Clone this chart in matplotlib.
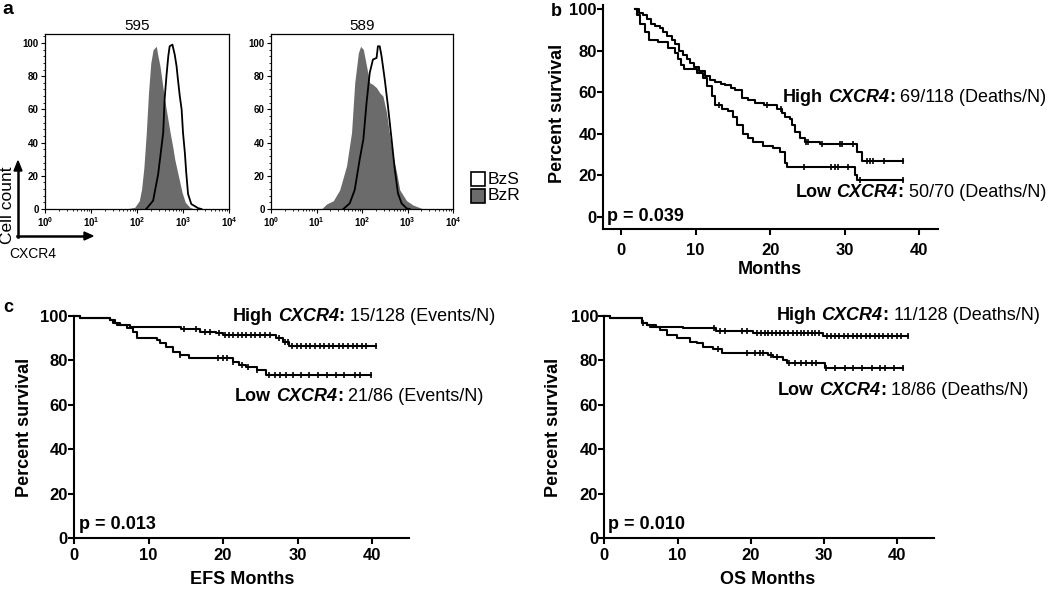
import numpy as np
import matplotlib
matplotlib.use('Agg')
import matplotlib.pyplot as plt
import matplotlib.transforms as mtransforms
from matplotlib.ticker import FixedLocator, LogLocator, NullFormatter, FuncFormatter, AutoMinorLocator
from matplotlib.patches import Rectangle
from matplotlib.lines import Line2D

plt.rcParams['font.family'] = ['Liberation Sans', 'DejaVu Sans']
plt.rcParams['mathtext.fontset'] = 'custom'
plt.rcParams['mathtext.rm'] = 'Liberation Sans'
plt.rcParams['mathtext.bf'] = 'Liberation Sans:bold'
plt.rcParams['mathtext.it'] = 'Liberation Sans:italic'

# ---------------- data ----------------
# panel a: flow histograms (log10 intensity, % of max)
h595_bzs_log = [2.20, 2.35, 2.46, 2.57, 2.60, 2.64, 2.68, 2.71, 2.77, 2.82, 2.86, 2.89, 2.93, 2.97, 3.00, 3.04, 3.07, 3.11, 3.18, 3.33, 3.40]
h595_bzs_cnt = [0, 5, 21, 46, 66, 80, 92, 98, 99, 93, 86, 78, 68, 60, 46, 34, 22, 9, 3, 0.5, 0]
h595_bzr_log = [1.75, 1.95, 2.05, 2.10, 2.15, 2.20, 2.25, 2.30, 2.35, 2.42, 2.45, 2.50, 2.55, 2.60, 2.66, 2.72, 2.78, 2.82, 2.90, 2.98, 3.05, 3.15, 3.25]
h595_bzr_cnt = [0, 1, 5, 12, 25, 45, 70, 88, 96, 98, 93, 86, 76, 66, 56, 46, 37, 30, 20, 10, 4, 1, 0]
h589_bzs_log = [1.59, 1.73, 1.84, 1.95, 2.03, 2.10, 2.17, 2.24, 2.32, 2.35, 2.39, 2.43, 2.50, 2.57, 2.65, 2.72, 2.79, 2.87, 2.98, 3.05]
h589_bzs_cnt = [0, 3.4, 11.5, 30, 42, 64, 82, 90, 91, 98, 98, 92, 78, 62, 42, 24, 9.5, 3.4, 0.4, 0]
h589_bzr_log = [1.11, 1.22, 1.37, 1.51, 1.66, 1.77, 1.84, 1.92, 1.97, 2.03, 2.10, 2.17, 2.24, 2.32, 2.39, 2.46, 2.54, 2.61, 2.68, 2.76, 2.83, 2.98, 3.12, 3.31, 3.40]
h589_bzr_cnt = [0, 3, 5, 11.5, 26, 46, 76, 94, 98, 96, 86, 76, 75, 73, 70, 68, 58, 44, 32, 22, 11.5, 5, 2.4, 0.4, 0]
hist_titles = ['595', '589']
legend_labels = ['BzS', 'BzR']

# panel b: survival (months, percent)
b_high_t = [1.9, 2.4, 3.0, 3.5, 4.0, 4.6, 5.2, 5.7, 6.2, 6.8, 7.3, 7.8, 8.3, 8.8, 9.3, 9.8, 10.4, 11.3, 12.0, 12.6, 13.4, 14.0, 14.7, 15.3, 16.2, 17.0, 18.0, 19.2, 20.9, 21.6, 22.0, 22.7, 22.9, 23.4, 24.0, 24.7, 26.7, 31.6, 32.3, 37.8]
b_high_s = [100, 98, 97, 95, 93, 92, 91, 89, 87, 85, 83, 80, 78, 76, 74, 72, 70, 68, 66, 65, 64, 63.5, 62, 61, 57, 56, 54.6, 54, 52, 50, 48, 47, 44, 41, 38, 36, 35, 31, 27, 27]
b_high_cens = [19.6, 21.4, 24.8, 25.1, 26.9, 29.3, 29.6, 31.1, 33.0, 33.4, 33.8, 35.2, 37.8]
b_low_t = [1.9, 2.2, 2.6, 3.2, 3.7, 5.0, 6.3, 7.2, 7.7, 8.1, 8.5, 10.2, 11.0, 11.5, 12.2, 12.6, 13.5, 14.4, 15.0, 15.5, 16.4, 17.0, 17.7, 19.1, 20.4, 21.3, 22.0, 22.2, 31.4, 31.6, 37.8]
b_low_s = [100, 97, 93, 89, 85, 84, 81, 79, 76, 73, 71, 69, 67, 63, 58, 54, 52, 51, 48, 44, 40, 38, 36, 34, 33, 31, 26, 24, 20, 18, 18]
b_low_cens = [13.2, 24.5, 28.1, 28.7, 29.1, 30.5, 32.1, 37.8]

# panel c: EFS
efs_high_t = [0, 0.8, 4.8, 5.3, 5.8, 7.5, 14.4, 16.9, 19.1, 20.0, 27.1, 28.0, 28.9, 40.5]
efs_high_s = [100, 99.2, 98.2, 97, 96, 95, 94, 93, 92.2, 91.4, 90, 88.5, 86.7, 86.7]
efs_high_cens = [14.8, 16.4, 17.6, 18.3, 19.4, 20.3, 20.8, 21.4, 22.0, 22.6, 23.1, 23.7, 24.3, 25.0, 25.6, 26.3, 27.5, 28.3, 28.7, 29.3, 29.9, 30.5, 31.1, 31.7, 32.4, 33.0, 33.6, 34.2, 34.8, 35.5, 36.1, 36.8, 37.4, 38.0, 38.6, 39.2, 40.5]
efs_low_t = [0, 0.8, 4.8, 5.5, 6.2, 7.1, 7.9, 8.4, 11.1, 11.5, 12.4, 13.3, 14.2, 15.5, 21.3, 22.2, 23.1, 24.5, 25.8, 39.9]
efs_low_s = [100, 99.2, 98, 97, 96, 94.5, 93, 90, 89.2, 87.7, 86.2, 84, 82.5, 81, 79.5, 78, 77.2, 75.7, 73.5, 73.5]
efs_low_cens = [14.2, 19.3, 20.0, 20.6, 21.4, 22.5, 23.3, 24.6, 26.2, 27.0, 27.7, 28.4, 29.4, 30.4, 31.6, 32.8, 33.9, 35.1, 36.3, 37.7, 38.4, 39.9]

# panel c: OS
os_high_t = [0, 0.8, 5.1, 5.8, 7.1, 10.8, 15.3, 20.3, 29.9, 41.5]
os_high_s = [100, 99.2, 97, 96, 95.2, 94.5, 93.4, 92.2, 91, 91]
os_high_cens = [5.3, 15.0, 15.8, 16.5, 18.8, 19.5, 20.8, 21.4, 21.9, 22.4, 22.9, 23.4, 24.0, 24.5, 25.1, 25.7, 26.3, 26.8, 27.3, 27.8, 28.3, 28.8, 29.3, 30.4, 30.9, 31.5, 32.1, 32.7, 33.3, 33.9, 34.5, 35.1, 35.7, 36.3, 36.9, 37.5, 38.1, 38.7, 39.3, 39.9, 40.5, 41.5]
os_low_t = [0, 0.8, 5.1, 5.8, 6.2, 7.6, 8.5, 9.9, 11.7, 12.6, 13.5, 14.9, 16.0, 22.3, 23.0, 24.4, 24.9, 30.1, 40.8]
os_low_s = [100, 99.2, 97, 96, 95.2, 93.7, 91.5, 90, 88.4, 87.7, 86.2, 85, 83.5, 82.5, 81.7, 80.2, 79, 76.5, 76.5]
os_low_cens = [15.5, 19.5, 20.6, 21.2, 21.7, 22.7, 23.6, 25.2, 26.0, 26.8, 27.5, 28.3, 28.9, 30.2, 31.5, 32.8, 34.0, 35.2, 36.5, 37.6, 38.3, 39.6, 40.8]

surv_ticks = [0, 20, 40, 60, 80, 100]
month_ticks = [0, 10, 20, 30, 40]

# ---------------- figure ----------------
W, H = 1050, 589
fig = plt.figure(figsize=(W / 100, H / 100), dpi=100)


def box(l, t, r, b):
    return [l / W, 1 - b / H, (r - l) / W, (b - t) / H]


def P(x, y):
    return (x / W, 1 - y / H)


GRAY = '#6b6b6b'

# ---- panel a ----
def hist(ax, sl, sc, rl, rc, title):
    sx = 10 ** np.array(sl)
    rx = 10 ** np.array(rl)
    ax.fill_between(sx, sc, color='white', lw=0, zorder=1)
    ax.fill_between(rx, rc, color=GRAY, lw=0, zorder=2)
    ax.plot(sx, sc, color='black', lw=1.3, zorder=3)
    ax.set_xscale('log')
    ax.set_xlim(1, 1e4)
    ax.set_ylim(0, 105.4)
    ax.yaxis.set_major_locator(FixedLocator(surv_ticks))
    ax.yaxis.set_minor_locator(AutoMinorLocator(5))
    ax.xaxis.set_major_locator(LogLocator(base=10, numticks=10))
    ax.xaxis.set_minor_locator(LogLocator(base=10, subs=np.arange(2, 10), numticks=20))
    ax.xaxis.set_minor_formatter(NullFormatter())
    ax.xaxis.set_major_formatter(FuncFormatter(lambda v, p: r'$\mathbf{10^{%d}}$' % round(np.log10(v))))
    ax.tick_params(which='major', direction='out', length=3, width=0.8, labelsize=7, pad=1.5)
    ax.tick_params(which='minor', direction='out', length=1.5, width=0.6)
    for lab in ax.get_yticklabels():
        lab.set_fontweight('bold')
    for sp in ax.spines.values():
        sp.set_linewidth(0.9)
    ax.set_title(title, fontsize=11, pad=3)


ax1 = fig.add_axes(box(45, 34, 229, 209))
hist(ax1, h595_bzs_log, h595_bzs_cnt, h595_bzr_log, h595_bzr_cnt, hist_titles[0])
ax2 = fig.add_axes(box(271, 34, 453, 209))
hist(ax2, h589_bzs_log, h589_bzs_cnt, h589_bzr_log, h589_bzr_cnt, hist_titles[1])

# legend
for i, (lab, col) in enumerate(zip(legend_labels, ['white', GRAY])):
    y0 = 172 + i * 17
    fig.add_artist(Rectangle(P(471, y0 + 14), 14 / W, 14 / H, transform=fig.transFigure,
                             facecolor=col, edgecolor='black', lw=1.2))
    fig.text(*P(488, y0 + 7), lab, fontsize=12.5, ha='left', va='center')

# axis arrows
fig.add_artist(Line2D([18 / W, 18 / W], [1 - 237 / H, 1 - 170 / H], color='black', lw=1.8))
fig.add_artist(Line2D([17 / W, 85 / W], [1 - 236 / H, 1 - 236 / H], color='black', lw=1.8))
fig.add_artist(plt.Polygon([P(14, 171), P(22, 171), P(18, 161)], closed=True, color='black', transform=fig.transFigure))
fig.add_artist(plt.Polygon([P(84, 232), P(84, 240), P(93, 236)], closed=True, color='black', transform=fig.transFigure))
fig.text(*P(8, 205), 'Cell count', rotation=90, fontsize=12.5, ha='center', va='center')
fig.text(*P(33, 254), 'CXCR4', fontsize=10, ha='center', va='center')
fig.text(*P(8, 10), 'a', fontsize=14, fontweight='bold', ha='center', va='center')


# ---- survival helpers ----
def surv_at(t, s, c):
    idx = np.searchsorted(np.array(t), c, side='right') - 1
    return np.array(s)[idx]


def km(ax, t, s, cens):
    ax.step(t, s, where='post', color='black', lw=1.5, clip_on=False, zorder=3)
    cy = surv_at(t, s, cens)
    ax.plot(cens, cy, ls='none', marker='|', ms=5, mew=1.2, color='black', clip_on=False, zorder=3)


def style_surv(ax, xlim, ylim, xpad):
    ax.set_xlim(*xlim)
    ax.set_ylim(*ylim)
    ax.spines['top'].set_visible(False)
    ax.spines['right'].set_visible(False)
    for sp in ['left', 'bottom']:
        ax.spines[sp].set_linewidth(1.5)
    ax.xaxis.set_major_locator(FixedLocator(month_ticks))
    ax.yaxis.set_major_locator(FixedLocator(surv_ticks))
    ax.tick_params(direction='out', length=4, width=1.5, labelsize=12)
    ax.tick_params(axis='y', pad=0.5)
    ax.tick_params(axis='x', pad=xpad)
    for lab in ax.get_xticklabels() + ax.get_yticklabels():
        lab.set_fontweight('bold')


renderer = fig.canvas.get_renderer()


def rich(ax, x, y, parts, size=13):
    dx = 0.0
    space = 0.278 * size * 100 / 72
    for s, w, st, gap in parts:
        if gap:
            dx += space
        tr = mtransforms.offset_copy(ax.transData, fig=fig, x=dx, y=0, units='dots')
        t = ax.text(x, y, s, transform=tr, fontsize=size, fontweight=w, fontstyle=st,
                    ha='left', va='baseline')
        dx += t.get_window_extent(renderer=renderer).width


def group_label(ax, x, y, grp, nums, size=13):
    rich(ax, x, y, [(grp, 'bold', 'normal', False), ('CXCR4', 'bold', 'italic', True),
                    (':', 'bold', 'normal', False), (nums, 'normal', 'normal', True)], size)


# ---- panel b ----
axb = fig.add_axes(box(603, 4.8, 938, 229))
style_surv(axb, (-2.4, 42.5), (-5.8, 102), 6)
km(axb, b_high_t, b_high_s, b_high_cens)
km(axb, b_low_t, b_low_s, b_low_cens)
group_label(axb, 21.7, 55.3, 'High', '69/118 (Deaths/N)')
group_label(axb, 23.4, 9.6, 'Low', '50/70 (Deaths/N)')
axb.text(-1.8, 0, 'p = 0.039', fontsize=13, fontweight='bold', ha='left', va='center')
fig.text(*P(557, 113), 'Percent survival', rotation=90, fontsize=13, fontweight='bold', ha='center', va='center')
fig.text(*P(770, 270), 'Months', fontsize=13, fontweight='bold', ha='center', va='center')
fig.text(*P(556, 12), 'b', fontsize=13, fontweight='bold', ha='center', va='center')

# ---- panel c left (EFS) ----
axc1 = fig.add_axes(box(74, 316, 409.3, 538.3))
style_surv(axc1, (0, 45), (0, 100), 3)
km(axc1, efs_high_t, efs_high_s, efs_high_cens)
km(axc1, efs_low_t, efs_low_s, efs_low_cens)
group_label(axc1, 21.3, 97.9, 'High', '15/128 (Events/N)')
group_label(axc1, 21.6, 61.9, 'Low', '21/86 (Events/N)')
axc1.text(0.7, 6.4, 'p = 0.013', fontsize=13, fontweight='bold', ha='left', va='center')
fig.text(*P(25, 427), 'Percent survival', rotation=90, fontsize=13, fontweight='bold', ha='center', va='center')
fig.text(*P(242, 580), 'EFS Months', fontsize=13, fontweight='bold', ha='center', va='center')
fig.text(*P(8, 307), 'c', fontsize=13, fontweight='bold', ha='center', va='center')

# ---- panel c right (OS) ----
axc2 = fig.add_axes(box(604.3, 316, 934, 538.3))
style_surv(axc2, (0, 45), (0, 100), 3)
km(axc2, os_high_t, os_high_s, os_high_cens)
km(axc2, os_low_t, os_low_s, os_low_cens)
group_label(axc2, 23.5, 98.2, 'High', '11/128 (Deaths/N)')
group_label(axc2, 23.7, 64.5, 'Low', '18/86 (Deaths/N)')
axc2.text(0.5, 6.4, 'p = 0.010', fontsize=13, fontweight='bold', ha='left', va='center')
fig.text(*P(553, 427), 'Percent survival', rotation=90, fontsize=13, fontweight='bold', ha='center', va='center')
fig.text(*P(768, 580), 'OS Months', fontsize=13, fontweight='bold', ha='center', va='center')

fig.savefig('out.png', dpi=100)
